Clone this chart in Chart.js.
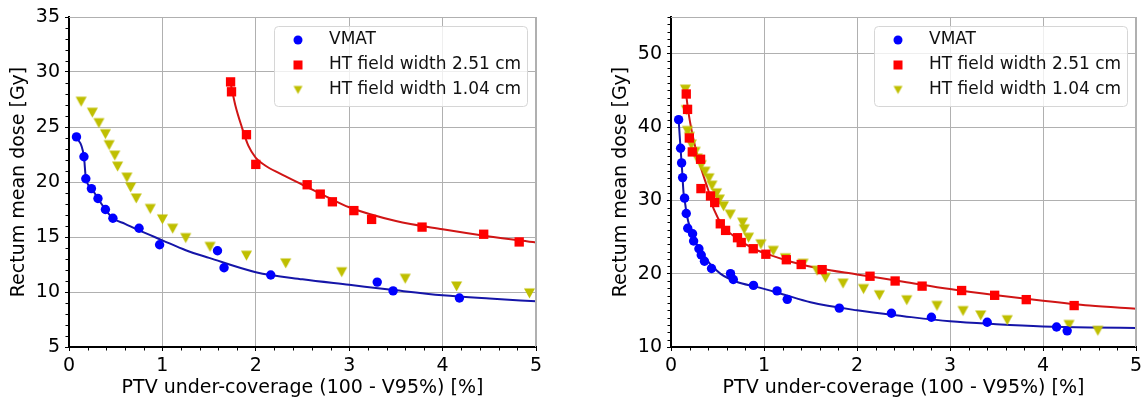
<!DOCTYPE html>
<html>
<head>
<meta charset="utf-8">
<script src="https://cdn.jsdelivr.net/npm/chart.js@4.4.1/dist/chart.umd.min.js"></script>
<style>
  html, body { margin: 0; padding: 0; background: #fff; }
  #wrap { position: relative; width: 1147px; height: 402px; }
  canvas { position: absolute; top: 0; }
</style>
</head>
<body>
<div id="wrap">
  <canvas id="left" width="560" height="402" style="left:0"></canvas>
  <canvas id="right" width="572" height="402" style="left:575px"></canvas>
</div>
<script>
// ---- left panel: measured points ----
const vmatLx = [0.08, 0.16, 0.18, 0.24, 0.31, 0.39, 0.47, 0.75, 0.97, 1.59, 1.66, 2.16, 3.30, 3.47, 4.18];
const vmatLy = [24.1, 22.3, 20.3, 19.4, 18.5, 17.5, 16.7, 15.8, 14.3, 13.75, 12.2, 11.55, 10.9, 10.1, 9.45];

const ht251Lx = [1.73, 1.74, 1.90, 2.00, 2.55, 2.69, 2.82, 3.05, 3.24, 3.78, 4.44, 4.82];
const ht251Ly = [29.1, 28.2, 24.3, 21.6, 19.75, 18.9, 18.2, 17.4, 16.6, 15.9, 15.25, 14.55];

const ht104Lx = [0.13, 0.25, 0.32, 0.39, 0.43, 0.49, 0.52, 0.62, 0.66, 0.72, 0.87, 1.00, 1.11, 1.25, 1.51, 1.90, 2.32, 2.92, 3.60, 4.15, 4.93];
const ht104Ly = [27.3, 26.3, 25.35, 24.35, 23.35, 22.4, 21.4, 20.4, 19.5, 18.5, 17.55, 16.6, 15.75, 14.9, 14.1, 13.3, 12.6, 11.8, 11.2, 10.5, 9.87];

// left panel: fitted curves
const fitVmatLx = [0.075, 0.16, 0.18, 0.24, 0.31, 0.39, 0.47, 0.6, 0.75, 1.0, 1.25, 1.5, 2.0, 2.5, 3.0, 3.5, 4.0, 4.5, 5.0];
const fitVmatLy = [24.15, 22.3, 20.4, 19.45, 18.5, 17.5, 16.7, 16.2, 15.6, 14.7, 13.8, 13.1, 11.8, 11.15, 10.65, 10.15, 9.7, 9.4, 9.15];

const fitHt251Lx = [1.73, 1.78, 1.85, 1.92, 2.0, 2.1, 2.25, 2.5, 2.75, 3.0, 3.5, 4.0, 4.5, 5.0];
const fitHt251Ly = [29.0, 27.0, 25.0, 23.3, 22.2, 21.5, 20.8, 19.75, 18.7, 17.7, 16.45, 15.7, 15.05, 14.5];

// ---- right panel: measured points ----
const vmatRx = [0.082, 0.103, 0.114, 0.125, 0.146, 0.164, 0.18, 0.232, 0.243, 0.30, 0.325, 0.36, 0.436, 0.64, 0.67, 0.887, 1.14, 1.25, 1.81, 2.37, 2.80, 3.40, 4.146, 4.26];
const vmatRy = [41.0, 37.1, 35.1, 33.1, 30.3, 28.2, 26.2, 25.45, 24.45, 23.4, 22.55, 21.7, 20.7, 20.0, 19.2, 18.4, 17.65, 16.5, 15.3, 14.6, 14.05, 13.37, 12.73, 12.2];

const ht251Rx = [0.164, 0.178, 0.197, 0.229, 0.318, 0.322, 0.425, 0.47, 0.53, 0.587, 0.715, 0.755, 0.884, 1.02, 1.24, 1.40, 1.625, 2.14, 2.41, 2.70, 3.125, 3.48, 3.82, 4.335];
const ht251Ry = [44.5, 42.4, 38.5, 36.6, 35.6, 31.6, 30.6, 29.7, 26.8, 25.9, 24.9, 24.25, 23.4, 22.65, 21.9, 21.25, 20.55, 19.65, 19.0, 18.3, 17.7, 17.05, 16.46, 15.65];

const ht104Rx = [0.154, 0.164, 0.178, 0.197, 0.218, 0.26, 0.282, 0.325, 0.365, 0.408, 0.44, 0.49, 0.52, 0.565, 0.637, 0.77, 0.787, 0.834, 0.967, 1.10, 1.23, 1.42, 1.57, 1.66, 1.85, 2.07, 2.24, 2.535, 2.86, 3.14, 3.33, 3.615, 4.28, 4.59];
const ht104Ry = [45.1, 42.3, 39.45, 38.65, 37.6, 36.6, 35.7, 34.8, 33.9, 33.0, 32.0, 30.95, 30.1, 29.2, 28.05, 26.95, 26.05, 24.9, 24.0, 23.1, 22.1, 21.35, 20.4, 19.45, 18.65, 17.9, 17.05, 16.37, 15.6, 14.9, 14.3, 13.65, 13.0, 12.2];

// right panel: fitted curves
const fitVmatRx = [0.082, 0.1, 0.12, 0.135, 0.154, 0.17, 0.207, 0.28, 0.387, 0.53, 0.71, 0.92, 1.2, 1.5, 2.0, 2.5, 3.0, 3.5, 4.0, 4.5, 5.0];
const fitVmatRy = [41.0, 37.6, 34.0, 31.0, 29.4, 28.0, 26.15, 23.9, 21.8, 20.0, 18.87, 18.2, 17.2, 16.1, 15.0, 14.2, 13.5, 13.1, 12.8, 12.65, 12.6];

const fitHt251Rx = [0.155, 0.19, 0.26, 0.33, 0.40, 0.46, 0.565, 0.71, 0.89, 1.03, 1.3, 1.6, 2.0, 2.5, 3.0, 3.5, 4.0, 4.5, 5.0];
const fitHt251Ry = [45.2, 41.8, 37.3, 34.1, 31.4, 28.8, 26.4, 24.8, 23.4, 22.7, 21.6, 20.7, 19.9, 18.9, 17.9, 17.05, 16.3, 15.65, 15.2];

const legendLabels = ['VMAT', 'HT field width 2.51 cm', 'HT field width 1.04 cm'];
const xTitle = 'PTV under-coverage (100 - V95%) [%]';
const yTitle = 'Rectum mean dose [Gy]';

const FONT = "'DejaVu Sans', sans-serif";
const BLUE = '#0000ff', RED = '#ff0000', OLIVE = '#bfbf00';
const BLUE_LINE = '#1515a8', RED_LINE = '#d01515';

const zip = (xs, ys) => xs.map((x, i) => ({ x: x, y: ys[i] }));

// matplotlib-like downward triangle marker
const makeTriangle = (w) => {
    const c = document.createElement('canvas');
    c.width = w + 2; c.height = w + 2;
    const g = c.getContext('2d');
    g.fillStyle = OLIVE;
    g.beginPath();
    g.moveTo(1, 1.5);
    g.lineTo(w + 1, 1.5);
    g.lineTo(w / 2 + 1, w + 0.5);
    g.closePath();
    g.fill();
    return c;
};
const triPoint = makeTriangle(11);
const triLegend = makeTriangle(9);

// minor ticks + grey top/right frame
const framePlugin = {
    id: 'frame',
    afterDraw(chart) {
        const { ctx, chartArea: a, scales } = chart;
        const xs = scales.x, ys = scales.y;
        ctx.save();
        ctx.strokeStyle = '#b0b0b0';
        ctx.lineWidth = 1;
        ctx.beginPath();
        ctx.moveTo(a.left, a.top + 0.5); ctx.lineTo(a.right, a.top + 0.5);
        ctx.moveTo(a.right - 0.5, a.top); ctx.lineTo(a.right - 0.5, a.bottom);
        ctx.stroke();
        ctx.strokeStyle = '#000';
        ctx.beginPath();
        for (let v = Math.ceil(ys.min); v <= ys.max; v += 1) {
            if (v % chart.options.scales.y.ticks.stepSize === 0) continue;
            const py = Math.round(ys.getPixelForValue(v)) + 0.5;
            ctx.moveTo(a.left - 1, py); ctx.lineTo(a.left - 3.5, py);
        }
        for (let i = 1; i < 25; i++) {
            if (i % 5 === 0) continue;
            const px = Math.round(xs.getPixelForValue(i * 0.2)) + 0.5;
            ctx.moveTo(px, a.bottom + 1); ctx.lineTo(px, a.bottom + 3.5);
        }
        ctx.stroke();
        ctx.restore();
    }
};

// legend box inside the plot, upper right
const legendPlugin = {
    id: 'innerLegend',
    afterDraw(chart) {
        const { ctx, chartArea: a } = chart;
        const right = a.right - 9, top = a.top + 9, w = 253, h = 80;
        const left = right - w;
        ctx.save();
        ctx.fillStyle = 'rgba(255,255,255,0.8)';
        ctx.strokeStyle = '#d6d6d6';
        ctx.lineWidth = 1;
        ctx.beginPath();
        ctx.roundRect(left + 0.5, top + 0.5, w, h, 4);
        ctx.fill();
        ctx.stroke();
        const mx = left + 24, tx = left + 55;
        const rows = [top + 14, top + 39, top + 64];
        ctx.fillStyle = BLUE;
        ctx.beginPath(); ctx.arc(mx, rows[0], 4.5, 0, Math.PI * 2); ctx.fill();
        ctx.fillStyle = RED;
        ctx.fillRect(mx - 4.5, rows[1] - 4.5, 9, 9);
        ctx.drawImage(triLegend, mx - triLegend.width / 2, rows[2] - triLegend.height / 2);
        ctx.fillStyle = '#111';
        ctx.font = '17px ' + FONT;
        ctx.textBaseline = 'middle';
        legendLabels.forEach((t, i) => ctx.fillText(t, tx, rows[i]));
        ctx.restore();
    }
};

const makeChart = (id, cfg) => {
    const ctx = document.getElementById(id).getContext('2d');
    const datasets = [
        { type: 'scatter', data: zip(cfg.vx, cfg.vy), backgroundColor: BLUE, borderWidth: 0,
          pointStyle: 'circle', pointRadius: 4.7, order: 0 },
        { type: 'scatter', data: zip(cfg.rx, cfg.ry), backgroundColor: RED, borderWidth: 0,
          pointStyle: 'rect', pointRadius: 6.6, order: 0 },
        { type: 'scatter', data: zip(cfg.tx, cfg.ty), pointStyle: triPoint, order: 0 },
        { type: 'line', data: zip(cfg.fvx, cfg.fvy), borderColor: BLUE_LINE, borderWidth: 2,
          pointRadius: 0, cubicInterpolationMode: 'monotone', fill: false, order: 1 },
        { type: 'line', data: zip(cfg.frx, cfg.fry), borderColor: RED_LINE, borderWidth: 2,
          pointRadius: 0, cubicInterpolationMode: 'monotone', fill: false, order: 1 }
    ];
    return new Chart(ctx, {
        type: 'scatter',
        data: { datasets },
        options: {
            responsive: false,
            animation: false,
            events: [],
            layout: { padding: { top: 17, right: cfg.padRight, left: 0, bottom: 0 } },
            plugins: { legend: { display: false }, tooltip: { enabled: false } },
            scales: {
                x: {
                    type: 'linear', min: 0, max: 5,
                    afterFit: (s) => { s.height = 55; },
                    ticks: { stepSize: 1, color: '#000', padding: 4,
                             font: { family: FONT, size: 19 } },
                    grid: { color: '#b0b0b0', lineWidth: 1, tickColor: '#000', tickLength: 4 },
                    border: { color: '#000', width: 2 },
                    title: { display: true, text: xTitle, color: '#000',
                             font: { family: FONT, size: 19 }, padding: { top: 0, bottom: 3 } }
                },
                y: {
                    type: 'linear', min: cfg.yMin, max: cfg.yMax,
                    afterFit: (s) => { s.width = cfg.yWidth; },
                    ticks: { stepSize: cfg.yStep, includeBounds: false, color: '#000', padding: 5,
                             font: { family: FONT, size: 19 } },
                    grid: { color: '#b0b0b0', lineWidth: 1, tickColor: '#000', tickLength: 4 },
                    border: { color: '#000', width: 2 },
                    title: { display: true, text: yTitle, color: '#000',
                             font: { family: FONT, size: 19 }, padding: { top: cfg.titlePad, bottom: 0 } }
                }
            }
        },
        plugins: [framePlugin, legendPlugin]
    });
};

makeChart('left', {
    vx: vmatLx, vy: vmatLy, rx: ht251Lx, ry: ht251Ly, tx: ht104Lx, ty: ht104Ly,
    fvx: fitVmatLx, fvy: fitVmatLy, frx: fitHt251Lx, fry: fitHt251Ly,
    yMin: 5, yMax: 35, yStep: 5, yWidth: 69, titlePad: 8, padRight: 24
});

makeChart('right', {
    vx: vmatRx, vy: vmatRy, rx: ht251Rx, ry: ht251Ry, tx: ht104Rx, ty: ht104Ry,
    fvx: fitVmatRx, fvy: fitVmatRy, frx: fitHt251Rx, fry: fitHt251Ry,
    yMin: 10, yMax: 55, yStep: 10, yWidth: 96, titlePad: 35, padRight: 11
});
</script>
</body>
</html>
